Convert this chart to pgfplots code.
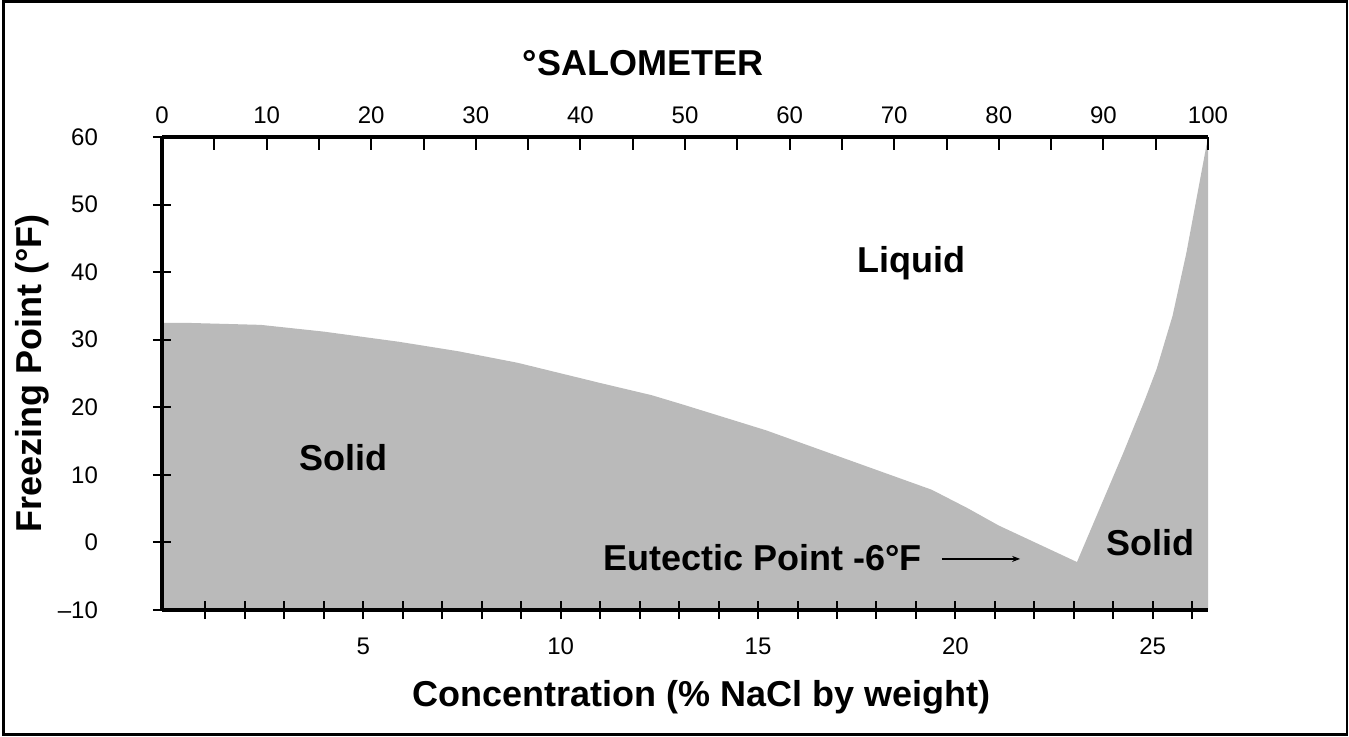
\documentclass[border=0pt]{standalone}
\usepackage{pgfplots}
\pgfplotsset{compat=1.18}
\usepackage{fontspec}
\setmainfont{Liberation Sans}
\usetikzlibrary{arrows.meta}
\definecolor{solidgray}{RGB}{186,186,186}
\begin{document}
\begin{tikzpicture}
\useasboundingbox (0,0) rectangle (674.5pt,368pt);
\draw[line width=1.2pt] (1.8pt,0.8pt) rectangle (673.6pt,367.2pt);
\begin{axis}[
  at={(81pt,63pt)}, anchor=south west,
  scale only axis, width=523pt, height=236.5pt,
  xmin=-0.1, xmax=26.4, ymin=-10, ymax=60,
  axis x line=bottom, axis y line=left,
  axis line style={-, line width=2pt},
  xtick={5,10,15,20,25},
  minor xtick={1,...,26},
  ytick={-10,0,...,60},
  yticklabels={\textendash10,0,10,20,30,40,50,60},
  tick align=center,
  major tick length=9pt, minor tick length=9pt,
  every tick/.style={black, line width=1pt},
  every minor tick/.style={black, line width=1pt},
  tick label style={font=\fontsize{12}{14}\selectfont},
  /pgf/number format/assume math mode=true,
  xticklabel style={yshift=-6pt},
  yticklabel style={xshift=-24pt},
  axis on top,
  clip=false,
]
\addplot[fill=solidgray, draw=none] coordinates {
  (-0.1,32.5) (0.5,32.5) (2.4,32.2) (4.0,31.2) (5.9,29.7) (7.4,28.3) (8.9,26.6)
  (11.0,23.6) (12.3,21.8) (13.1,20.4) (15.2,16.6) (17.3,12.2) (19.4,7.8)
  (20.3,5.1) (21.1,2.5) (23.08,-2.9) (24.25,13.2) (24.8,21.1) (25.1,25.7)
  (25.5,33.5) (25.85,42.8) (26.4,60) (26.4,-10) (-0.1,-10)
};
\node[anchor=base west, font=\bfseries\fontsize{18}{22}\selectfont] at (axis cs:17.35,39.9) {Liquid};
\node[anchor=base west, font=\bfseries\fontsize{18}{22}\selectfont] at (axis cs:3.2,10.7) {Solid};
\node[anchor=base west, font=\bfseries\fontsize{18}{22}\selectfont] at (axis cs:23.65,-1.86) {Solid};
\node[anchor=base west, font=\bfseries\fontsize{18}{22}\selectfont] at (axis cs:10.9,-4.08) {Eutectic Point -6°F};
\draw[-{Stealth[length=4pt,width=3pt]}, line width=0.6pt] (axis cs:19.66,-2.44) -- (axis cs:21.64,-2.44);
\node[anchor=base, font=\bfseries\fontsize{18}{22}\selectfont] at (axis description cs:0.46,1.131) {°SALOMETER};
\node[anchor=base, font=\bfseries\fontsize{18}{22}\selectfont] at (axis description cs:0.516,-0.205) {Concentration (\% NaCl by weight)};
\node[anchor=base, rotate=90, font=\bfseries\fontsize{18}{22}\selectfont] at (axis description cs:-0.115,0.5) {Freezing Point (°F)};
\end{axis}
\begin{axis}[
  at={(81pt,63pt)}, anchor=south west,
  scale only axis, width=523pt, height=236.5pt,
  xmin=0, xmax=100, ymin=0, ymax=1,
  axis x line=top, axis y line=none,
  axis line style={-, line width=1.8pt},
  xtick={0,10,...,100},
  minor xtick={5,15,...,95},
  tick align=inside,
  major tick length=6.5pt, minor tick length=6.5pt,
  every tick/.style={black, line width=1pt},
  every minor tick/.style={black, line width=1pt},
  tick label style={font=\fontsize{12}{14}\selectfont},
  /pgf/number format/assume math mode=true,
  xticklabel style={yshift=3pt},
  ytick=\empty,
]
\addplot[draw=none, forget plot] coordinates {(0,0) (100,1)};
\end{axis}
\end{tikzpicture}
\end{document}
